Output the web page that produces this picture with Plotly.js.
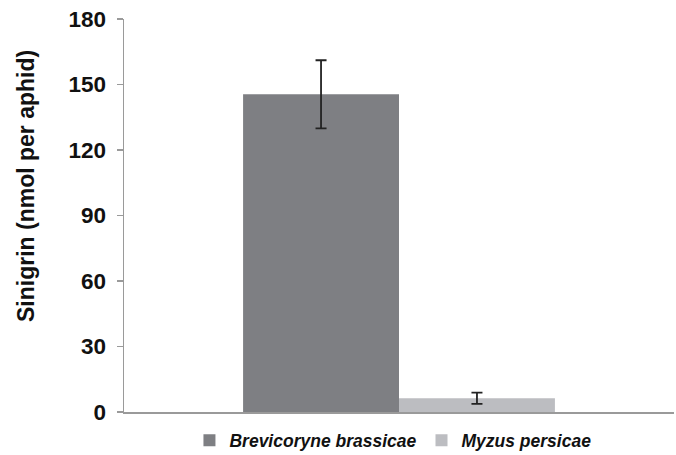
<!DOCTYPE html>
<html><head><meta charset="utf-8">
<script src="https://cdn.plot.ly/plotly-3.0.1.min.js"></script>
<style>body{margin:0;padding:0;background:#fff}#chart{width:676px;height:455px}</style>
</head><body><div id="chart"></div>
<script>
const category = ["Sinigrin"];
const seriesNames = ["Brevicoryne brassicae", "Myzus persicae"];
const values = [145.5, 6.3];
const errors = [15.6, 2.6];
const colors = ["#7e7f83", "#bcbdc1"];
const yTitle = "Sinigrin (nmol per aphid)";

const traces = seriesNames.map((name, i) => ({
  type: "bar",
  name: name,
  x: category,
  y: [values[i]],
  marker: {color: colors[i], line: {width: 0}},
  error_y: {type: "data", array: [errors[i]], visible: true, color: "#222222", thickness: 1.8, width: 5.5}
}));

const layout = {
  width: 676, height: 455,
  margin: {l: 124, r: 2, t: 19, b: 43, autoexpand: false},
  paper_bgcolor: "#ffffff", plot_bgcolor: "#ffffff",
  font: {family: "Liberation Sans, Arial, sans-serif", color: "#111111"},
  barmode: "group", bargap: 0.433, bargroupgap: 0,
  showlegend: true,
  legend: {
    orientation: "h", x: 0.489, xanchor: "center", y: -0.072, yanchor: "middle",
    font: {size: 17.5, family: "Liberation Sans, Arial, sans-serif", color: "#111111", weight: "bold", style: "italic"},
    itemwidth: 30, traceorder: "normal"
  },
  xaxis: {
    showticklabels: false, ticks: "", showgrid: false, zeroline: false,
    showline: true, linecolor: "#9a9a9a", linewidth: 2, fixedrange: true
  },
  yaxis: {
    range: [0, 180], dtick: 30, tick0: 0, showgrid: false, zeroline: false,
    showline: true, linecolor: "#9a9a9a", linewidth: 1.5,
    ticks: "outside", ticklen: 6, tickcolor: "#9a9a9a", tickwidth: 1.5,
    ticklabelstandoff: 6,
    tickfont: {size: 22.5, family: "Liberation Sans, Arial, sans-serif", color: "#111111", weight: "bold"}
  },
  annotations: [{
    text: yTitle, textangle: -90, showarrow: false,
    xref: "paper", yref: "paper", x: (26 - 124) / 550, y: (412 - 186) / 393,
    xanchor: "center", yanchor: "middle",
    font: {size: 23, family: "Liberation Sans, Arial, sans-serif", color: "#111111", weight: "bold"}
  }]
};

Plotly.newPlot("chart", traces, layout, {displayModeBar: false, staticPlot: true});
</script>
</body></html>
